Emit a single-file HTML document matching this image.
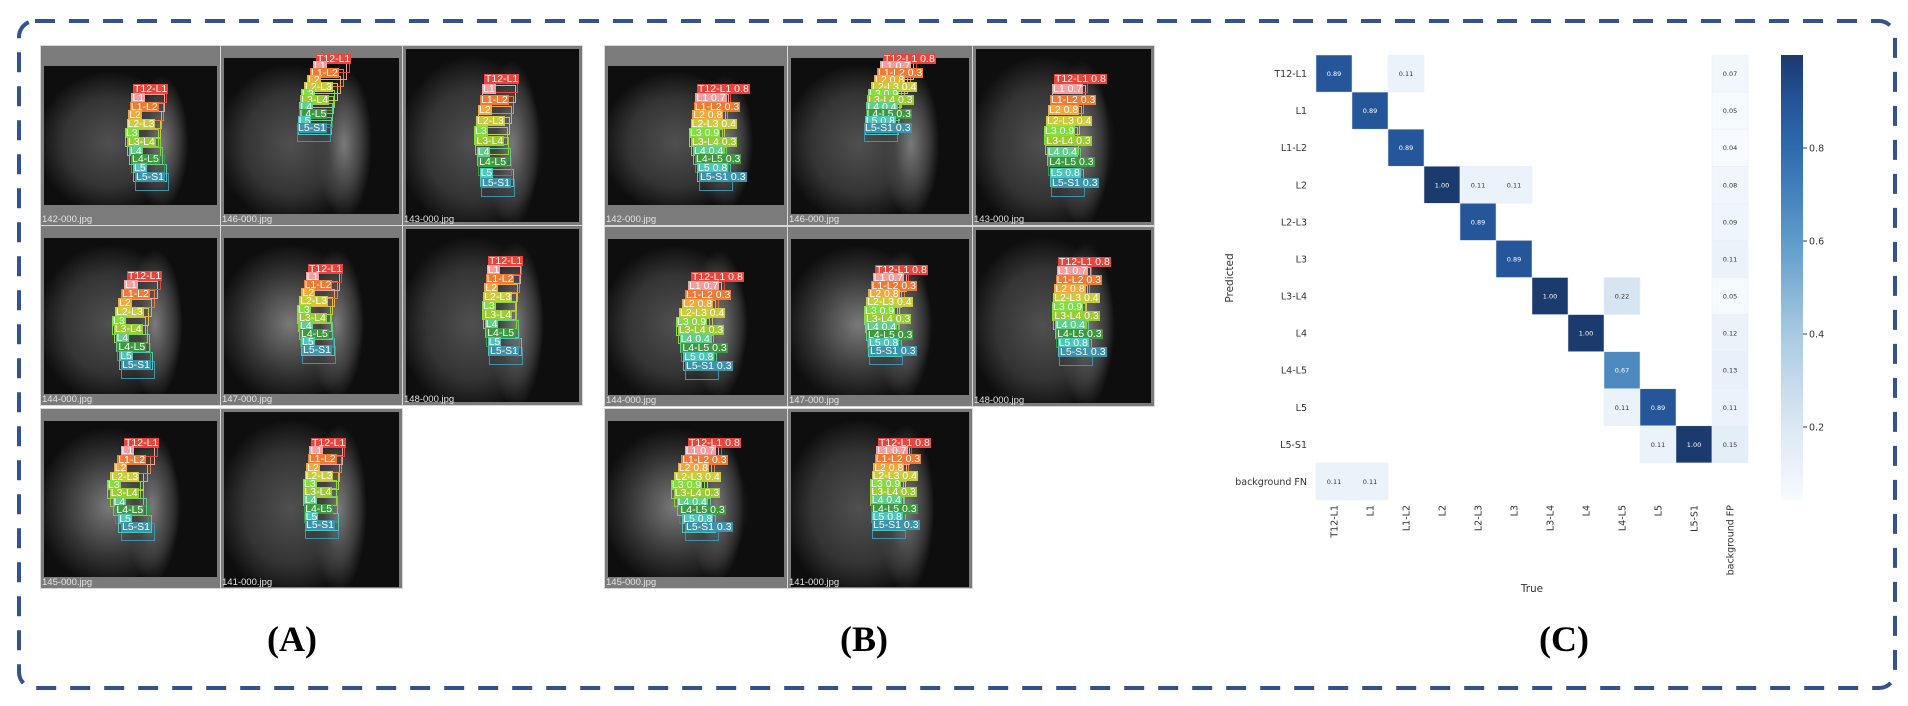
<!DOCTYPE html>
<html><head><meta charset="utf-8">
<style>
html,body{margin:0;padding:0;background:#fff;}
body{width:1908px;height:706px;position:relative;overflow:hidden;font-family:"Liberation Sans","DejaVu Sans",sans-serif;}
.panel{position:absolute;background:#fff;}
.tile{position:absolute;background:#7b7b7b;box-sizing:border-box;border:1px solid #d8d8d8;overflow:hidden;}
.img{position:absolute;background:#080808;overflow:hidden;}
.fname{position:absolute;left:1px;bottom:0px;font-size:9.5px;color:#e4e4e4;line-height:10px;white-space:nowrap;}
.lab{position:absolute;height:10px;font-size:10.5px;line-height:10px;color:#fff;white-space:nowrap;padding:0 1px;}
.box{position:absolute;box-sizing:border-box;border:1px solid;}
.plabel{position:absolute;font-family:"Liberation Serif",serif;font-weight:bold;font-size:36px;transform:translateX(-50%);}
</style></head>
<body>
<svg style="position:absolute;left:0;top:0" width="1908" height="706">
<rect x="19" y="21" width="1876" height="667" rx="16" ry="16" fill="none" stroke="#34528f" stroke-width="4" stroke-dasharray="20 14"/>
</svg>
<div id="panelA" class="panel" style="left:40px;top:45px;width:543px;height:544px"></div>
<div id="panelB" class="panel" style="left:604px;top:45px;width:551px;height:544px"></div>
<div class="plabel" style="left:292px;top:618px">(A)</div>
<div class="plabel" style="left:864px;top:618px">(B)</div>
<div class="plabel" style="left:1564px;top:618px">(C)</div>
<svg id="cm" style="position:absolute;left:0;top:0" width="1908" height="706"></svg>
<script>
// ---------- Confusion matrix data ----------
const trueLabels = ["T12-L1","L1","L1-L2","L2","L2-L3","L3","L3-L4","L4","L4-L5","L5","L5-S1","background FP"];
const predLabels = ["T12-L1","L1","L1-L2","L2","L2-L3","L3","L3-L4","L4","L4-L5","L5","L5-S1","background FN"];
const rowT12L1 = [0.89,0,0.11,0,0,0,0,0,0,0,0,0.07];
const rowL1    = [0,0.89,0,0,0,0,0,0,0,0,0,0.05];
const rowL1L2  = [0,0,0.89,0,0,0,0,0,0,0,0,0.04];
const rowL2    = [0,0,0,1.00,0.11,0.11,0,0,0,0,0,0.08];
const rowL2L3  = [0,0,0,0,0.89,0,0,0,0,0,0,0.09];
const rowL3    = [0,0,0,0,0,0.89,0,0,0,0,0,0.11];
const rowL3L4  = [0,0,0,0,0,0,1.00,0,0.22,0,0,0.05];
const rowL4    = [0,0,0,0,0,0,0,1.00,0,0,0,0.12];
const rowL4L5  = [0,0,0,0,0,0,0,0,0.67,0,0,0.13];
const rowL5    = [0,0,0,0,0,0,0,0,0.11,0.89,0,0.11];
const rowL5S1  = [0,0,0,0,0,0,0,0,0,0.11,1.00,0.15];
const rowBgFN  = [0.11,0.11,0,0,0,0,0,0,0,0,0,0];
const matrixRows = [rowT12L1,rowL1,rowL1L2,rowL2,rowL2L3,rowL3,rowL3L4,rowL4,rowL4L5,rowL5,rowL5S1,rowBgFN];
const cbTicks = [0.2,0.4,0.6,0.8];

const NS="http://www.w3.org/2000/svg";
const svg=document.getElementById('cm');
const X0=1316, CW=36, Y0=55, CH=37.08;
function xs(i){return X0+i*CW;}
function ys(j){return Y0+j*CH;}
function cy(v){return 148+(0.8-v)*465;}
const stops=[[0.04,[247,251,255]],[0.2,[220,232,244]],[0.4,[169,202,226]],[0.6,[94,155,202]],[0.8,[47,106,174]],[0.9,[36,84,152]],[1.0,[27,58,110]]];
function col(v){
  if(v<=stops[0][0])return 'rgb('+stops[0][1]+')';
  for(let k=1;k<stops.length;k++){if(v<=stops[k][0]){const a=stops[k-1],b=stops[k];const t=(v-a[0])/(b[0]-a[0]);
    return 'rgb('+a[1].map((c,i)=>Math.round(c+(b[1][i]-c)*t)).join(',')+')';}}
  return 'rgb('+stops[stops.length-1][1]+')';
}
function mk(tag,attrs,txt){const e=document.createElementNS(NS,tag);for(const k in attrs)e.setAttribute(k,attrs[k]);if(txt!==undefined)e.textContent=txt;svg.appendChild(e);return e;}
matrixRows.forEach((row,j)=>{
  row.forEach((v,i)=>{
    if(v<=0)return;
    const r=mk('rect',{x:xs(i),y:ys(j),width:CW,height:CH,fill:col(v),stroke:'#e8eef8','stroke-width':0.5});
    
    
    const t=mk('text',{x:xs(i)+CW/2,y:ys(j)+CH/2+2.5,'text-anchor':'middle','font-size':6.5,fill:v>0.5?'#fff':'#333','font-family':'DejaVu Sans, sans-serif'},v.toFixed(2));
    
    
  });
});
predLabels.forEach((l,j)=>{
  const t=mk('text',{x:1307,y:ys(j)+CH/2+3.5,'text-anchor':'end','font-size':9.5,fill:'#333','font-family':'DejaVu Sans, sans-serif'},l);
  
  
});
trueLabels.forEach((l,i)=>{
  const x=xs(i)+CW/2+3.5, y=505;
  const t=mk('text',{x:x,y:y,'text-anchor':'end','font-size':9.5,fill:'#333','font-family':'DejaVu Sans, sans-serif',transform:'rotate(-90 '+x+' '+y+')'},l);
  
  
});
const xt=mk('text',{x:1532,y:592,'text-anchor':'middle','font-size':10.5,fill:'#333','font-family':'DejaVu Sans, sans-serif'},'True');


const yt=mk('text',{x:1233,y:278,'text-anchor':'middle','font-size':10.5,fill:'#333','font-family':'DejaVu Sans, sans-serif',transform:'rotate(-90 1233 278)'},'Predicted');


// colorbar
const defs=mk('defs',{});
const lg=document.createElementNS(NS,'linearGradient');lg.setAttribute('id','cbg');lg.setAttribute('x1','0');lg.setAttribute('y1','1');lg.setAttribute('x2','0');lg.setAttribute('y2','0');
const vmin=0.8-(500-148)/465, vmax=1.0;
for(let k=0;k<=20;k++){const v=vmin+(vmax-vmin)*k/20;const s=document.createElementNS(NS,'stop');s.setAttribute('offset',k/20);s.setAttribute('stop-color',col(v));lg.appendChild(s);}
defs.appendChild(lg);
const cb=mk('rect',{x:1781,y:cy(vmax),width:22,height:cy(vmin)-cy(vmax),fill:'url(#cbg)'});


cbTicks.forEach(v=>{
  const l=mk('line',{x1:1803,x2:1807,y1:cy(v),y2:cy(v),stroke:'#333','stroke-width':1});
  
  
  const t=mk('text',{x:1809,y:cy(v)+3.5,'font-size':9.5,fill:'#333','font-family':'DejaVu Sans, sans-serif'},v.toFixed(1));
  
  
});

// ---------- MRI tiles ----------
const vertNames=["T12-L1","L1","L1-L2","L2","L2-L3","L3","L3-L4","L4","L4-L5","L5","L5-S1"];
const vertCols=["#e8453c","#f0a0a0","#ef7a33","#f2a93a","#c9cc3c","#7fe03f","#9ccc35","#5fd08c","#3d9a3e","#4dc6bc","#3d93ab"];
const tileFiles=["142-000.jpg","146-000.jpg","143-000.jpg","144-000.jpg","147-000.jpg","148-000.jpg","145-000.jpg","141-000.jpg"];
const tileGeo=[[20,159,92,38,84,94,126],[12,168,95,8,80,76,77],[3,176,81,28,71,78,132],
               [12,168,86,45,71,80,134],[12,168,87,38,76,81,119],[3,176,85,30,79,86,120],
               [12,168,83,29,66,80,113],[3,178,90,29,82,84,111]];
const scoresB=["0.8","0.7","0.3","0.8","0.4","0.9","0.3","0.4","0.3","0.8","0.3"];
function lx(g,u){return u<0.5? g[2]+(g[4]-g[2])*(u*2): g[4]+(g[5]-g[4])*((u-0.5)*2);}
function buildPanel(id,colX,rowY,tw,th,withScores){
  const p=document.getElementById(id);
  tileFiles.forEach((f,n)=>{
    const c=n%3,r=Math.floor(n/3);
    const g=tileGeo[n];
    const t=document.createElement('div');t.className='tile';
    
    
    t.style.left=colX[c]+'px';t.style.top=rowY[r]+'px';t.style.width=tw[c]+'px';t.style.height=th+'px';
    const im=document.createElement('div');im.className='img';
    
    
    im.style.left='3px';im.style.right='3px';im.style.top=g[0]+'px';im.style.height=(g[1]-g[0])+'px';
    const bright=(n===4||n===6)?'#7a7a7a':'#505050';
    im.style.background='radial-gradient(ellipse 20% 60% at '+(g[2]+25)+'px 55%, #7a7a7a 0%, #444 45%, transparent 80%),radial-gradient(ellipse 48% 58% at 38% 55%, '+bright+' 0%, #343434 55%, #0e0e0e 88%), #070707';
    t.appendChild(im);
    const N=vertNames.length;
    for(let i=N-1;i>=0;i--){
      const u=i/(N-1);
      const x=lx(g,u), y=g[3]+(g[6]-g[3])*u;
      const bx=document.createElement('div');bx.className='box';
      
      
      bx.style.left=x+'px';bx.style.top=(y+1)+'px';bx.style.width='34px';bx.style.height='18px';bx.style.borderColor=vertCols[i];
      t.appendChild(bx);
    }
    for(let i=0;i<N;i++){
      const u=i/(N-1);
      const x=lx(g,u), y=g[3]+(g[6]-g[3])*u;
      const lb=document.createElement('div');lb.className='lab';
      
      
      lb.style.left=x+'px';lb.style.top=y+'px';lb.style.background=vertCols[i];
      lb.textContent=withScores?vertNames[i]+' '+scoresB[i]:vertNames[i];
      t.appendChild(lb);
    }
    const fn=document.createElement('div');fn.className='fname';
    
    
    fn.textContent=f;t.appendChild(fn);
    p.appendChild(t);
  });
}
buildPanel('panelA',[0,180,362],[0,180,363],[181,183,181],181,false);
buildPanel('panelB',[0,183,368],[0,181,363],[184,186,183],181,true);
</script>
</body></html>
